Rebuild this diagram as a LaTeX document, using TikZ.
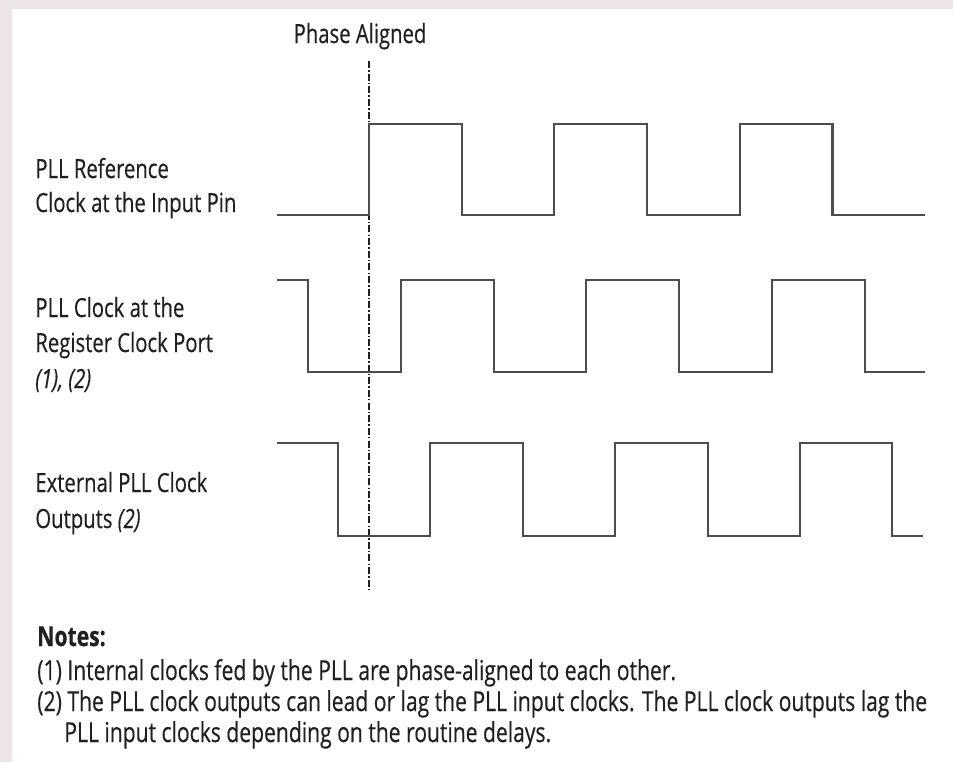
\documentclass[tikz,border=0pt]{standalone}
\usepackage{fontspec}
\setmainfont{Open Sans}[FakeStretch=0.77,FakeBold=0.4]
\usetikzlibrary{positioning}
\definecolor{ink}{HTML}{231F20}
\definecolor{wavegray}{HTML}{4D4D4D}
\definecolor{framegray}{HTML}{ECE4E7}

\begin{document}
\begin{tikzpicture}[x=0.02cm,y=-0.02cm,
    every node/.style={inner sep=0pt,text=ink,anchor=base west,font=\fontsize{15}{19}\selectfont},
    note/.style={font=\fontsize{15.6}{19}\selectfont},
    wave/.style={draw=wavegray,line width=1.2pt},
    phase/.style={draw=ink,line width=0.8pt,dash pattern=on 4pt off 1.2pt on 0.8pt off 1.2pt}]
    \fill[framegray] (0,0) rectangle (953,762);
    \fill[white] (12,9) rectangle (953,762);
    % phase marker
    \node[anchor=base] (ph) at (360,43) {Phase Aligned};
    \coordinate (phtop) at (369,61);
    \coordinate (phbot) at (369,589);
    \draw[phase] (phtop)--(phbot);
    % signal names
    \node (refa) at (35,178) {PLL Reference};
    \node (refb) at (35,212) {Clock at the Input Pin};
    \node (rega) at (35,317) {PLL Clock at the};
    \node (regb) at (35,352) {Register Clock Port};
    \node (regc) at (35,388) {\itshape (1), (2)};
    \node (exta) at (35,492) {External PLL Clock};
    \node (extb) at (35,528) {Outputs \itshape(2)};
    % waveforms
    \draw[wave] (277,215)--(369,215)--(369,124)--(461.7,124)--(461.7,215)--(554.4,215)--(554.4,124)
        --(647.1,124)--(647.1,215)--(739.8,215)--(739.8,124)--(832.5,124)--(832.5,215)--(925,215);
    \draw[wave] (277,280)--(308,280)--(308,372)--(400.8,372)--(400.8,280)--(493.6,280)--(493.6,372)
        --(586.4,372)--(586.4,280)--(679.2,280)--(679.2,372)--(772,372)--(772,280)--(864.8,280)
        --(864.8,372)--(925,372);
    \draw[wave] (277,443)--(338,443)--(338,536)--(430.4,536)--(430.4,443)--(522.8,443)--(522.8,536)
        --(615.2,536)--(615.2,443)--(707.6,443)--(707.6,536)--(800,536)--(800,443)--(892.4,443)
        --(892.4,536)--(923,536);
    % notes
    \node[note] (notes) at (37,646) {\bfseries Notes:};
    \node[note] (n1) at (37,680) {(1) Internal clocks fed by the PLL are phase-aligned to each other.};
    \node[note] (n2) at (37,711) {(2) The PLL clock outputs can lead or lag the PLL input clocks. The PLL clock outputs lag the};
    \node[note] (n3) at (64,742) {PLL input clocks depending on the routine delays.};
\end{tikzpicture}
\end{document}
